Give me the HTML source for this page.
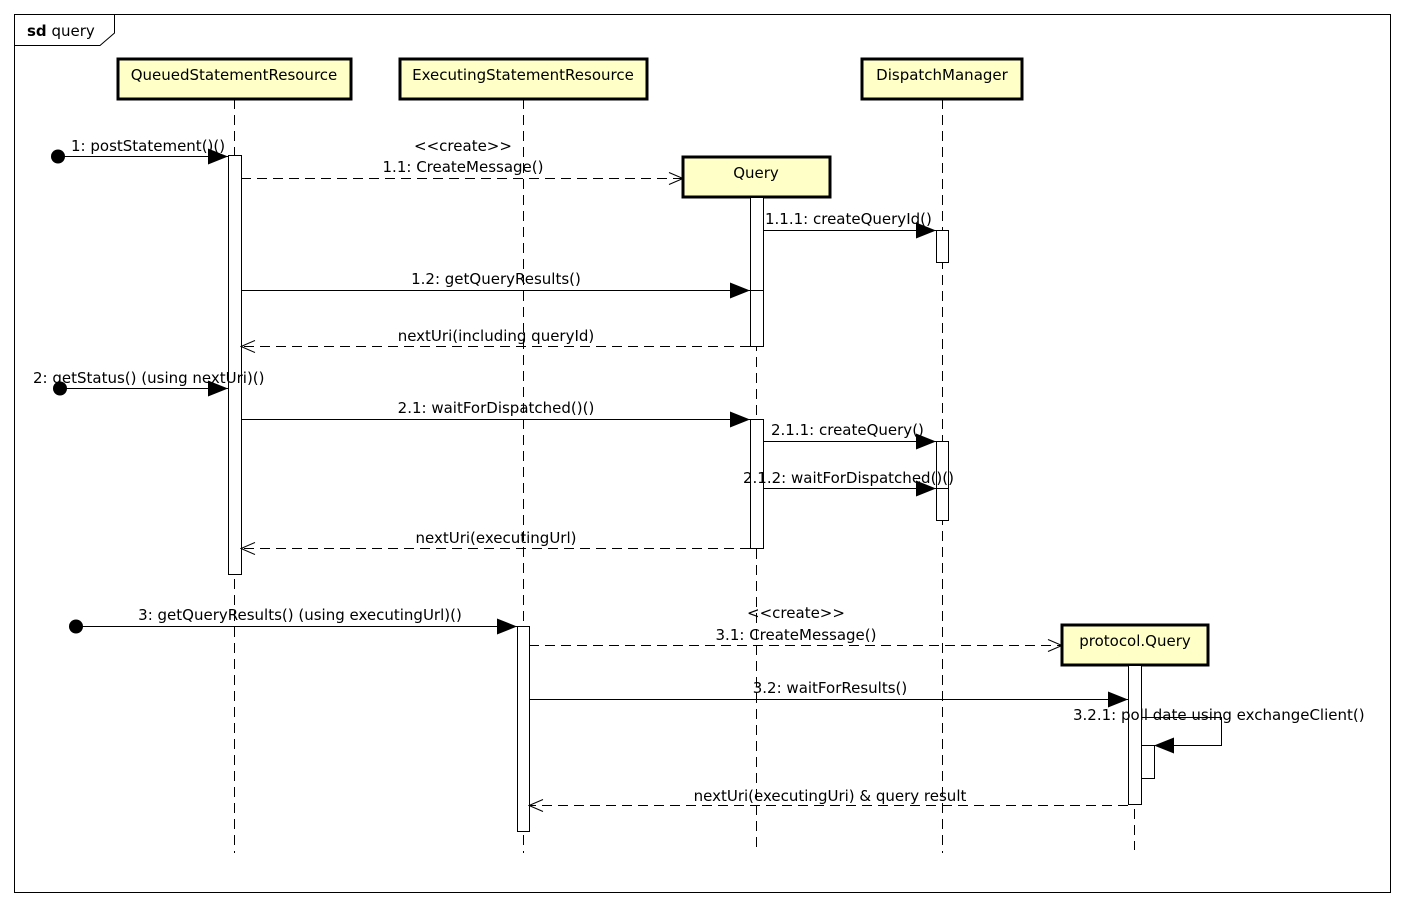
<!DOCTYPE html>
<html><head><meta charset="utf-8"><style>
html,body{margin:0;padding:0;background:#fff}
svg{display:block}
text{font-family:"DejaVu Sans","Liberation Sans",sans-serif;font-size:15px;fill:#000}
</style></head><body>
<svg width="1404" height="906" viewBox="0 0 1404 906" xmlns="http://www.w3.org/2000/svg">
<defs>
<marker id="f" markerWidth="20" markerHeight="16" refX="20" refY="8" orient="auto" markerUnits="userSpaceOnUse"><path d="M0,0 L20,8 L0,16 Z" fill="#000"/></marker>
<marker id="o" markerWidth="16" markerHeight="14" refX="15" refY="7" orient="auto" markerUnits="userSpaceOnUse"><path d="M1,1 L15,7 L1,13" fill="none" stroke="#000" stroke-width="1"/></marker>
</defs>
<rect x="14.5" y="14.5" width="1376" height="878" fill="none" stroke="#000" stroke-width="1"/>
<path d="M14,45.5 L100,45.5 L114.5,33 L114.5,14" fill="none" stroke="#000"/>
<text x="27" y="36"><tspan font-weight="bold">sd</tspan> query</text>

<g stroke="#000" stroke-dasharray="10,6" stroke-width="1">
<line x1="234.5" y1="99" x2="234.5" y2="853"/>
<line x1="523.5" y1="99" x2="523.5" y2="853"/>
<line x1="942.5" y1="99" x2="942.5" y2="853"/>
<line x1="756.5" y1="197" x2="756.5" y2="853"/>
<line x1="1134.5" y1="665" x2="1134.5" y2="850"/>
</g>

<g fill="#ffffc8" stroke="#000" stroke-width="3">
<rect x="118" y="59" width="233" height="40"/>
<rect x="400" y="59" width="247" height="40"/>
<rect x="862" y="59" width="160" height="40"/>
<rect x="683" y="157" width="147" height="40"/>
<rect x="1062" y="625" width="146" height="40"/>
</g>
<g text-anchor="middle">
<text x="234" y="80">QueuedStatementResource</text>
<text x="523" y="80">ExecutingStatementResource</text>
<text x="942" y="80">DispatchManager</text>
<text x="756" y="178">Query</text>
<text x="1135" y="646">protocol.Query</text>
</g>

<g fill="#fff" stroke="#000" stroke-width="1">
<rect x="228.5" y="155.5" width="13" height="419"/>
<rect x="517.5" y="626.5" width="12" height="205"/>
<rect x="936.5" y="230.5" width="12" height="32"/>
<rect x="936.5" y="441.5" width="12" height="79"/>
<line x1="936" y1="488.5" x2="948" y2="488.5"/>
<rect x="750.5" y="197.5" width="13" height="149"/>
<line x1="750" y1="290.5" x2="763" y2="290.5"/>
<rect x="750.5" y="419.5" width="13" height="129"/>
<rect x="1128.5" y="665.5" width="13" height="139"/>
<rect x="1141.5" y="745.5" width="13" height="33"/>
</g>

<g stroke="#000" stroke-width="1" fill="none">
<line x1="58" y1="156.5" x2="228" y2="156.5" marker-end="url(#f)"/>
<line x1="241" y1="178.5" x2="683" y2="178.5" stroke-dasharray="10,6" marker-end="url(#o)"/>
<line x1="763" y1="230.5" x2="936" y2="230.5" marker-end="url(#f)"/>
<line x1="241" y1="290.5" x2="750" y2="290.5" marker-end="url(#f)"/>
<line x1="750" y1="346.5" x2="241" y2="346.5" stroke-dasharray="10,6" marker-end="url(#o)"/>
<line x1="60" y1="388.5" x2="228" y2="388.5" marker-end="url(#f)"/>
<line x1="241" y1="419.5" x2="750" y2="419.5" marker-end="url(#f)"/>
<line x1="763" y1="441.5" x2="936" y2="441.5" marker-end="url(#f)"/>
<line x1="763" y1="488.5" x2="936" y2="488.5" marker-end="url(#f)"/>
<line x1="750" y1="548.5" x2="241" y2="548.5" stroke-dasharray="10,6" marker-end="url(#o)"/>
<line x1="76" y1="626.5" x2="517" y2="626.5" marker-end="url(#f)"/>
<line x1="529" y1="645.5" x2="1062" y2="645.5" stroke-dasharray="10,6" marker-end="url(#o)"/>
<line x1="529" y1="699.5" x2="1128" y2="699.5" marker-end="url(#f)"/>
<path d="M1141,717.5 L1221.5,717.5 L1221.5,745.5 L1154,745.5" marker-end="url(#f)"/>
<line x1="1128" y1="805.5" x2="529" y2="805.5" stroke-dasharray="10,6" marker-end="url(#o)"/>
</g>
<g fill="#000">
<circle cx="58" cy="156.5" r="7"/>
<circle cx="60" cy="388.5" r="7"/>
<circle cx="76" cy="626.5" r="7"/>
</g>

<text x="71" y="151">1: postStatement()()</text>
<g text-anchor="middle">
<text x="463" y="151">&lt;&lt;create&gt;&gt;</text>
<text x="463" y="172">1.1: CreateMessage()</text>
<text x="496" y="284">1.2: getQueryResults()</text>
<text x="496" y="341">nextUri(including queryId)</text>
<text x="496" y="413">2.1: waitForDispatched()()</text>
<text x="496" y="543">nextUri(executingUrl)</text>
<text x="300" y="620">3: getQueryResults() (using executingUrl)()</text>
<text x="796" y="618">&lt;&lt;create&gt;&gt;</text>
<text x="796" y="640">3.1: CreateMessage()</text>
<text x="830" y="693">3.2: waitForResults()</text>
<text x="830" y="801">nextUri(executingUri) &amp; query result</text>
</g>
<text x="765" y="224">1.1.1: createQueryId()</text>
<text x="33" y="383">2: getStatus() (using nextUri)()</text>
<text x="771" y="435">2.1.1: createQuery()</text>
<text x="743" y="483">2.1.2: waitForDispatched()()</text>
<text x="1073" y="720">3.2.1: poll date using exchangeClient()</text>
</svg>
</body></html>
